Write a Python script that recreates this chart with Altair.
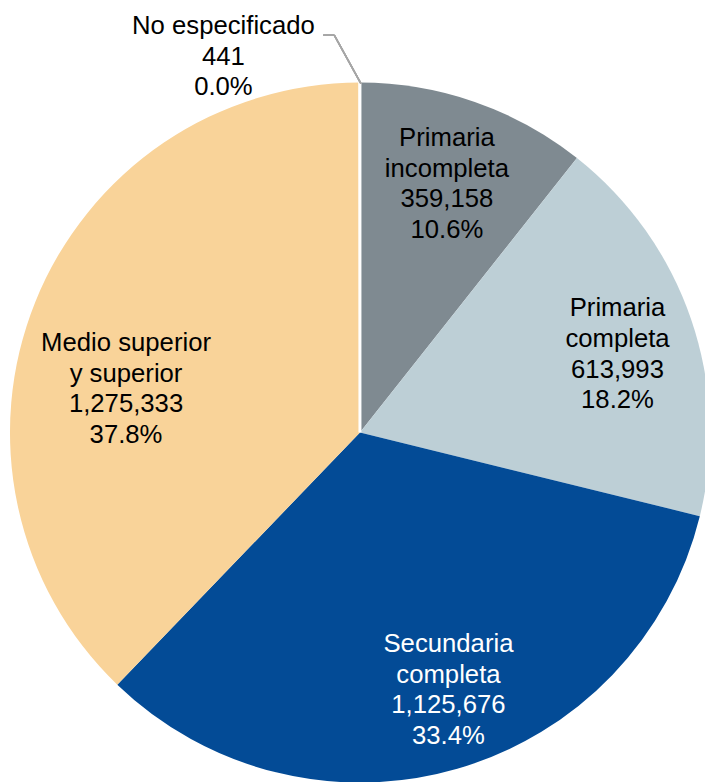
import altair as alt
import pandas as pd

categories = ["Primaria incompleta", "Primaria completa", "Secundaria completa",
              "Medio superior y superior", "No especificado"]
label_names = ["Primaria\nincompleta", "Primaria\ncompleta", "Secundaria\ncompleta",
               "Medio superior\ny superior", "No especificado"]
values = [359158, 613993, 1125676, 1275333, 441]
slice_colors = ["#7F8A91", "#BDCFD6", "#034B96", "#F9D399", "#FFFFFF"]

df = pd.DataFrame({
    "cat": categories,
    "name": label_names,
    "value": values,
    "order": list(range(len(categories))),
})

CX, CY = 356, 425
R = 354
LR = 268
LH = 31
FONT = "Liberation Sans"

base = alt.Chart(df).transform_joinaggregate(
    total="sum(value)"
).transform_calculate(
    pct="datum.value / datum.total",
    label="datum.name + '\\n' + format(datum.value, ',') + '\\n' + format(datum.pct, '.1%')",
)

pie = base.mark_arc(radius=R, stroke="white", strokeWidth=0).encode(
    theta=alt.Theta("value:Q", stack=True),
    order=alt.Order("order:Q"),
    color=alt.Color("cat:N", scale=alt.Scale(domain=categories, range=slice_colors), legend=None),
    strokeWidth=alt.condition(alt.datum.cat == "No especificado", alt.value(3), alt.value(0)),
    x=alt.value(CX),
    y=alt.value(CY),
)


def label_layer(cat, nlines, dx, dy, color):
    return base.mark_text(
        radius=LR, dx=dx, dy=dy - (nlines - 1) * LH / 2, lineBreak="\n", font=FONT,
        fontSize=26, lineHeight=LH, align="center", baseline="middle", color=color,
    ).encode(
        theta=alt.Theta("value:Q", stack=True),
        order=alt.Order("order:Q"),
        text="label:N",
        x=alt.value(CX),
        y=alt.value(CY),
        opacity=alt.condition(alt.datum.cat == cat, alt.value(1), alt.value(0)),
    )


labels = [
    label_layer("Primaria incompleta", 4, 0, 2, "#000000"),
    label_layer("Primaria completa", 4, 7, 8, "#000000"),
    label_layer("Secundaria completa", 4, 15, 3, "#FFFFFF"),
    label_layer("Medio superior y superior", 4, 12, 56, "#000000"),
    label_layer("No especificado", 3, -138, -112, "#000000"),
]

leader1 = alt.Chart(df).mark_rule(color="#A6A6A6", strokeWidth=1.5).encode(
    x=alt.value(319), x2=alt.value(330), y=alt.value(23), y2=alt.value(23)
)
leader2 = alt.Chart(df).mark_rule(color="#A6A6A6", strokeWidth=1.5).encode(
    x=alt.value(330), x2=alt.value(357), y=alt.value(23), y2=alt.value(72)
)

chart = alt.layer(pie, leader1, leader2, *labels).properties(
    width=705, height=774, padding=0, autosize=alt.AutoSizeParams(type="none")
).configure_view(stroke=None)

chart.save("out.html", embed_options={"renderer": "svg", "actions": False})
